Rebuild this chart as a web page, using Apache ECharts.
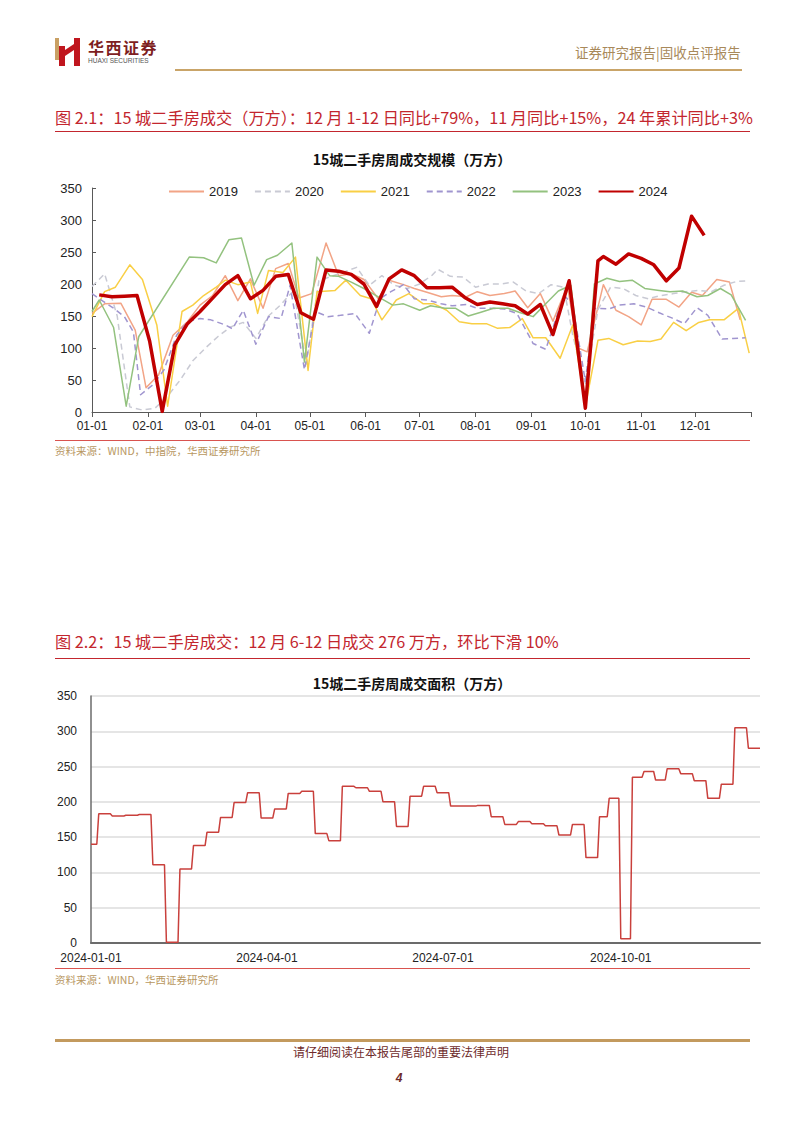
<!DOCTYPE html>
<html><head><meta charset="utf-8">
<script src="https://cdn.jsdelivr.net/npm/echarts/dist/echarts.min.js"></script>
<style>
html,body{margin:0;padding:0;background:#fff;}
body{width:802px;height:1133px;position:relative;overflow:hidden;font-family:"Noto Sans CJK SC","Liberation Sans",sans-serif;}
.abs{position:absolute;white-space:nowrap;line-height:1;}
#chart{position:absolute;left:0;top:0;width:802px;height:1133px;}
</style></head>
<body>
<svg class="abs" style="left:0;top:0" width="100" height="80">
  <rect x="55" y="38" width="4" height="22" fill="#C9A064"/>
  <rect x="59" y="46" width="6" height="20" fill="#C0161E"/>
  <polygon points="59,54 74,44 74,50 59,60" fill="#C0161E"/>
  <rect x="74" y="38" width="6" height="28" fill="#C0161E"/>
</svg>
<div class="abs" style="left:88px;top:39px;font-size:16px;font-weight:700;color:#7E1E22;letter-spacing:1.5px;">华西证券</div>
<div class="abs" style="left:88px;top:58px;font-size:6.5px;color:#555;font-family:'Liberation Sans';">HUAXI SECURITIES</div>
<div class="abs" style="left:575px;top:46px;font-size:13.5px;color:#A8895A;">证券研究报告|固收点评报告</div>
<div class="abs" style="left:175px;top:69px;width:567px;height:2px;background:#C9A468;"></div>

<div class="abs" style="left:55px;top:109px;font-size:16.2px;color:#C3262E;">图 2.1：15 城二手房成交（万方）：12 月 1-12 日同比+79%，11 月同比+15%，24 年累计同比+3%</div>
<div class="abs" style="left:55px;top:131px;width:695px;height:1px;background:#C3262E;"></div>
<div class="abs" style="left:55px;top:440px;width:695px;height:1px;background:#D9534F;"></div>
<div class="abs" style="left:55px;top:446px;font-size:10.5px;color:#B8975F;">资料来源：WIND，中指院，华西证券研究所</div>

<div class="abs" style="left:55px;top:633px;font-size:16.2px;color:#C3262E;">图 2.2：15 城二手房成交：12 月 6-12 日成交 276 万方，环比下滑 10%</div>
<div class="abs" style="left:55px;top:658px;width:695px;height:1px;background:#C3262E;"></div>
<div class="abs" style="left:55px;top:968px;width:695px;height:1px;background:#D9534F;"></div>
<div class="abs" style="left:55px;top:975px;font-size:10.5px;color:#B8975F;">资料来源：WIND，华西证券研究所</div>

<div class="abs" style="left:55px;top:1039px;width:695px;height:3px;background:#C39A5E;"></div>
<div class="abs" style="left:0;width:802px;text-align:center;top:1046px;font-size:12px;color:#6E2B2B;">请仔细阅读在本报告尾部的重要法律声明</div>
<div class="abs" style="left:0;width:798px;text-align:center;top:1072px;font-size:12px;font-weight:700;font-style:italic;color:#6E2B2B;font-family:'Liberation Sans';">4</div>

<div id="chart"></div>
<script>
// ---- chart 1: weekly volume by year (x = day of year) ----
const monthStarts = [0,31,60,91,121,152,182,213,244,274,305,335];
const monthTicks = [0,31,60,91,121,152,182,213,244,274,305,335,366];
const monthLabels = ['01-01','02-01','03-01','04-01','05-01','06-01','07-01','08-01','09-01','10-01','11-01','12-01'];
const yearNames = ['2019','2020','2021','2022','2023','2024'];

const days2019 = [0,7,16,24,30,37,45,53,60,67,74,81,88,95,102,109,115,122,130,137,144,151,159,165,173,179,186,194,200,208,214,221,229,235,242,249,256,264,270,275,284,291,298,305,311,319,326,333,339,347,354,360];
const vals2019 = [154,169,170,128,38,58,120,141,167,182,213,174,208,162,224,232,178,185,264,213,216,207,177,206,199,193,187,180,182,180,188,182,185,189,163,185,142,197,100,94,199,159,149,136,176,176,164,187,182,207,203,144];

const days2020 = [0,7,14,21,28,35,42,49,56,63,70,77,84,91,98,105,112,119,126,133,140,147,154,161,168,175,182,189,192,199,206,213,220,227,234,241,248,255,262,267,274,281,288,295,302,309,316,323,330,337,344,351,358,364];
const vals2020 = [196,216,150,8,3,6,25,50,80,100,118,133,140,115,150,168,190,75,205,212,219,226,198,213,198,193,200,214,223,212,211,195,200,200,203,189,185,199,195,120,45,160,195,193,182,177,182,185,188,190,188,198,204,205];

const days2021 = [0,7,13,21,28,36,42,50,56,62,69,74,81,88,92,98,106,113,120,125,135,141,149,155,161,169,176,184,190,197,204,211,219,225,232,239,245,252,260,267,274,281,287,295,303,310,316,323,330,337,343,351,359,365];
const vals2021 = [149,188,195,230,207,136,9,157,167,182,195,206,199,203,154,221,218,242,65,188,190,206,182,177,144,175,185,169,169,159,141,138,138,131,132,146,116,116,84,136,9,112,115,105,111,110,114,140,127,140,144,144,162,92];

const days2022 = [0,4,12,18,23,27,34,40,47,53,60,66,74,78,84,91,98,105,110,118,124,131,138,146,154,160,166,173,179,186,194,200,208,214,221,229,236,245,252,259,263,267,274,279,287,293,301,308,315,322,329,336,342,350,356,363];
const vals2022 = [185,177,162,149,125,27,43,66,120,141,146,144,136,130,159,106,149,146,198,66,157,149,151,154,123,177,188,199,177,175,169,166,168,162,162,161,154,107,98,157,180,167,48,162,161,167,169,164,155,147,138,163,151,114,115,116];

const days2023 = [0,4,12,19,26,54,62,69,76,83,90,97,103,111,118,125,132,137,144,151,159,167,173,182,188,196,202,209,216,223,231,238,245,252,259,266,274,279,286,293,300,307,315,321,328,336,342,349,355,363];
const vals2023 = [157,175,132,9,118,242,241,233,269,272,198,238,245,264,78,242,213,212,203,193,180,167,169,159,166,162,162,150,156,162,162,155,149,169,189,198,9,200,209,204,206,193,190,188,189,180,182,193,183,143];

const days2024 = [4,11,18,25,32,39,46,53,60,67,74,81,88,95,102,109,116,123,130,137,144,151,158,165,172,179,186,193,200,207,214,221,228,235,242,249,256,265,274,281,284,291,298,305,312,319,326,333,340];
const vals2024 = [183,180,181,182,111,1,105,138,157,178,199,213,177,190,212,215,155,145,222,220,215,200,165,208,222,213,194,194,195,179,168,172,169,166,153,168,121,205,6,236,243,231,247,240,230,205,225,306,276];

// ---- chart 2: 2024 weekly area, each week held across its days ----
const quarterStarts = [0,91,182,274];
const quarterLabels = ['2024-01-01','2024-04-01','2024-07-01','2024-10-01'];
const weekStartDay = [0,4,11,18,25,32,39,46,53,60,67,74,81,88,95,102,109,116,123,130,137,144,151,158,165,172,179,186,193,200,207,214,221,228,235,242,249,256,263,268,274,280,286,292,298,305,312,319,326,333,340];
const weekArea = [140,183,180,181,182,111,1,105,138,157,178,199,213,177,190,212,215,155,145,222,220,215,200,165,208,222,213,194,194,195,179,168,172,169,166,153,168,121,179,205,6,235,243,231,247,240,230,205,225,305,276];
const lastDay = 346;

function pairs(d, v){ return d.map((x,i)=>[x, v[i]]); }
function held(starts, vals, end){
  const out = [];
  for (let i=0;i<starts.length;i++){
    const e = i<starts.length-1 ? starts[i+1]-1 : end;
    out.push([starts[i], vals[i]]);
    out.push([e, vals[i]]);
  }
  return out;
}

const styles = {
  '2019': {color:'#F2A486', width:1.5, type:'solid'},
  '2020': {color:'#C9CAD4', width:1.5, type:[6,4]},
  '2021': {color:'#F9CF45', width:1.5, type:'solid'},
  '2022': {color:'#A095CF', width:1.5, type:[6,4]},
  '2023': {color:'#93C27F', width:1.5, type:'solid'},
  '2024': {color:'#C00000', width:3.5, type:'solid'}
};
const dataByYear = {
  '2019': pairs(days2019, vals2019), '2020': pairs(days2020, vals2020),
  '2021': pairs(days2021, vals2021), '2022': pairs(days2022, vals2022),
  '2023': pairs(days2023, vals2023), '2024': pairs(days2024, vals2024)
};

const axisFont = 'Liberation Sans, Arial, sans-serif';
const series = yearNames.map((y,i)=>({
  name: y, type:'line', xAxisIndex:0, yAxisIndex:0, symbol:'none',
  data: dataByYear[y], z: 2 + i,
  lineStyle: {color: styles[y].color, width: styles[y].width, type: styles[y].type, join:'round'},
  itemStyle: {color: styles[y].color}
}));
series.push({
  name:'面积', type:'line', xAxisIndex:1, yAxisIndex:1, symbol:'none',
  data: held(weekStartDay, weekArea, lastDay),
  lineStyle:{color:'#C9403C', width:1.5}, itemStyle:{color:'#C9403C'}
});

const chart = echarts.init(document.getElementById('chart'), null, {renderer:'svg'});
chart.setOption({
  animation:false,
  backgroundColor:'transparent',
  title:[
    {text:'15城二手房周成交规模（万方）', left:407, top:147, textAlign:'center',
     textStyle:{fontSize:14, fontWeight:'bold', color:'#111', fontFamily:'Noto Sans CJK SC'}},
    {text:'15城二手房周成交面积（万方）', left:407, top:671, textAlign:'center',
     textStyle:{fontSize:14, fontWeight:'bold', color:'#111', fontFamily:'Noto Sans CJK SC'}}
  ],
  legend:{data:yearNames, left:163, top:180, itemWidth:35, itemHeight:14, itemGap:16,
    itemStyle:{opacity:0},
    textStyle:{fontSize:13, color:'#222', fontFamily:axisFont}},
  grid:[
    {left:92, top:188, width:659, height:224},
    {left:91, top:696, width:669, height:247}
  ],
  xAxis:[
    {type:'value', gridIndex:0, min:0, max:366,
     axisLine:{show:true, lineStyle:{color:'#595959', width:1}},
     axisTick:{show:true, customValues:monthTicks, length:5, lineStyle:{color:'#595959'}},
     axisLabel:{customValues:monthStarts, margin:8, fontSize:12, color:'#222', fontFamily:axisFont,
       formatter:(v)=>monthLabels[monthStarts.indexOf(v)]},
     splitLine:{show:false}},
    {type:'value', gridIndex:1, min:0, max:lastDay,
     axisLine:{show:true, lineStyle:{color:'#6b6b6b', width:2}},
     axisTick:{show:false},
     axisLabel:{customValues:quarterStarts, margin:9, fontSize:12, color:'#222', fontFamily:axisFont,
       formatter:(v)=>quarterLabels[quarterStarts.indexOf(v)]},
     splitLine:{show:false}}
  ],
  yAxis:[
    {type:'value', gridIndex:0, min:0, max:350, interval:50,
     axisLine:{show:true, lineStyle:{color:'#595959', width:1}},
     axisTick:{show:true, inside:true, length:4, lineStyle:{color:'#595959'}},
     axisLabel:{margin:10, fontSize:13, color:'#222', fontFamily:axisFont},
     splitLine:{show:false}},
    {type:'value', gridIndex:1, min:0, max:350, interval:50,
     axisLine:{show:true, lineStyle:{color:'#6b6b6b', width:1.5}},
     axisTick:{show:false},
     axisLabel:{margin:14, fontSize:12, color:'#222', fontFamily:axisFont},
     splitLine:{show:true, lineStyle:{color:'#DCDCDC', width:1.5}}}
  ],
  series: series
});
</script>
</body></html>
